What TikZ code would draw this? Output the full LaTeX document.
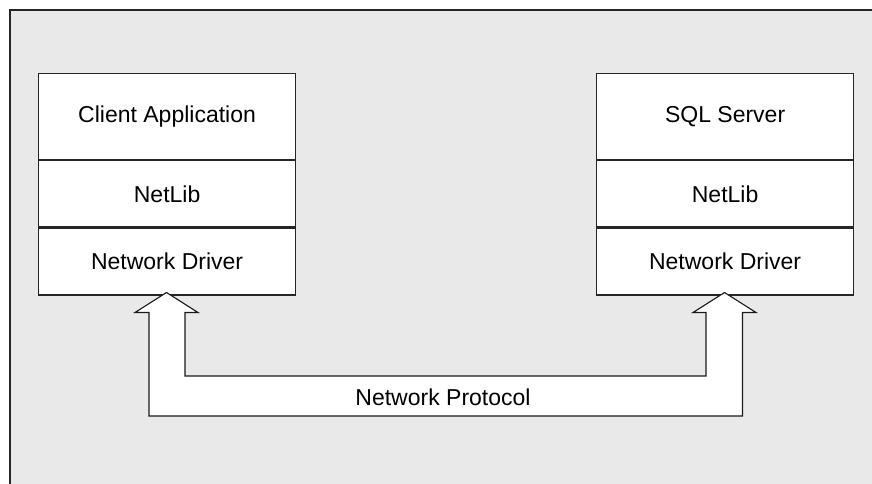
\documentclass[tikz,border=0pt]{standalone}
\usepackage{fontspec}
\setmainfont{Liberation Sans}
\begin{document}
\begin{tikzpicture}[x=1pt,y=-1pt,
  layer/.style={draw=black!85,fill=white,line width=1.2pt,minimum width=257pt,inner sep=0pt,font=\fontsize{23}{27}\selectfont},
  toplayer/.style={layer,minimum height=86pt},
  midlayer/.style={layer,minimum height=66pt},
  botlayer/.style={layer,minimum height=67pt},
  pipe/.style={draw=black!90,fill=white,line width=1.1pt,line join=miter},
  lbl/.style={font=\fontsize{23}{27}\selectfont,inner sep=0pt}]
\useasboundingbox (0,0) rectangle (872,483);
\draw[fill=black!8.5,draw=black!85,line width=1.1pt] (10,10) rectangle (880,495);
% left stack
\node[toplayer,anchor=north west] (ca) at (38,73) {Client Application};
\node[midlayer,anchor=north] (nl1) at (ca.south) {NetLib};
\node[botlayer,anchor=north] (nd1) at (nl1.south) {Network Driver};
% right stack
\node[toplayer,anchor=north west] (sql) at (596,73) {SQL Server};
\node[midlayer,anchor=north] (nl2) at (sql.south) {NetLib};
\node[botlayer,anchor=north] (nd2) at (nl2.south) {Network Driver};
% double arrow pipe
\coordinate (t1) at (166.5,292.5);
\coordinate (t2) at (724.5,292.5);
\draw[pipe] (t1) -- ++(31.5,20) -- (185,312.5) -- (185,376) -- (706,376) -- (706,312.5)
  -- (693,312.5) -- (t2) -- (756,312.5) -- (742.5,312.5) -- (742.5,416) -- (149,416)
  -- (149,312.5) -- (135,312.5) -- cycle;
\node[lbl] (np) at (443,397) {Network Protocol};
\end{tikzpicture}
\end{document}
